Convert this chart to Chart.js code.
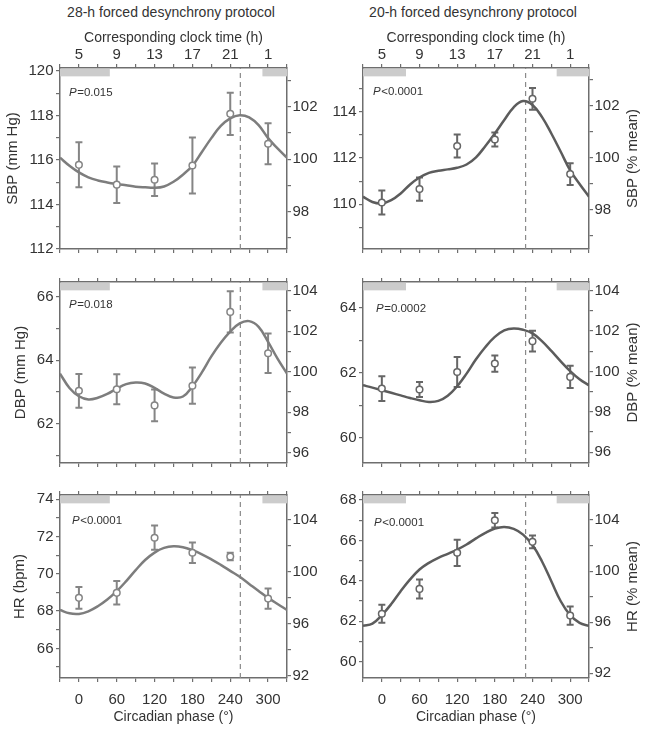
<!DOCTYPE html>
<html><head><meta charset="utf-8">
<script src="https://cdn.jsdelivr.net/npm/chart.js@4"></script>
<style>
body{margin:0;background:#fff;width:649px;height:730px;position:relative;overflow:hidden;font-family:"Liberation Sans",Arial,sans-serif;}
canvas{position:absolute;}
.ct{position:absolute;font-size:14px;line-height:16px;color:#333;white-space:nowrap;transform:translateX(-50%);}
</style></head><body>
<div class="ct" style="left:171px;top:4px">28-h forced desynchrony protocol</div>
<div class="ct" style="left:473px;top:4px">20-h forced desynchrony protocol</div>
<canvas id="c0"></canvas><canvas id="c1"></canvas>
<canvas id="c2"></canvas><canvas id="c3"></canvas>
<canvas id="c4"></canvas><canvas id="c5"></canvas>
<script>
// ---- data ----
const phases = [0, 60, 120, 180, 240, 300];
const phaseLabels = ['0', '60', '120', '180', '240', '300'];
const clockLabels = ['5', '9', '13', '17', '21', '1'];
const fitPhases = [-30,-15,0,15,30,45,60,75,90,105,120,135,150,165,180,195,210,225,240,255,270,285,300,315,330];

const sbp28Mean = [115.78, 114.89, 115.11, 115.75, 118.07, 116.73];
const sbp28Sem  = [1.01, 0.82, 0.73, 1.26, 0.95, 0.92];
const sbp28Fit  = [116.1,115.74,115.44,115.22,115.08,114.99,114.92,114.86,114.80,114.77,114.75,114.81,115.02,115.34,115.74,116.36,116.98,117.53,117.87,118.01,117.91,117.56,116.98,116.52,116.1];

const sbp20Mean = [110.08, 110.66, 112.52, 112.80, 114.56, 111.31];
const sbp20Sem  = [0.52, 0.50, 0.50, 0.30, 0.47, 0.47];
const sbp20Fit  = [110.33,110.1,110.04,110.18,110.47,110.86,111.16,111.36,111.45,111.51,111.58,111.72,112.03,112.52,113.06,113.64,114.19,114.46,114.29,113.78,113.06,112.27,111.47,110.88,110.33];

const dbp28Mean = [63.04, 63.09, 62.58, 63.20, 65.52, 64.22];
const dbp28Sem  = [0.53, 0.47, 0.50, 0.57, 0.65, 0.62];
const dbp28Fit  = [63.58,63.13,62.87,62.77,62.82,62.94,63.11,63.25,63.30,63.27,63.13,62.95,62.83,62.86,63.18,63.62,64.12,64.55,64.9,65.16,65.23,65.05,64.58,64.05,63.58];

const dbp20Mean = [61.51, 61.48, 62.02, 62.28, 62.97, 61.87];
const dbp20Sem  = [0.38, 0.23, 0.46, 0.25, 0.32, 0.34];
const dbp20Fit  = [61.61,61.54,61.46,61.38,61.30,61.22,61.15,61.10,61.13,61.29,61.58,61.97,62.41,62.79,63.10,63.30,63.36,63.32,63.21,62.97,62.67,62.35,62.05,61.8,61.61];

const hr28Mean = [68.71, 68.98, 71.94, 71.13, 70.93, 68.67];
const hr28Sem  = [0.58, 0.63, 0.65, 0.55, 0.20, 0.54];
const hr28Fit  = [68.06,67.88,67.85,67.99,68.26,68.62,69.07,69.61,70.2,70.74,71.14,71.39,71.48,71.43,71.27,71.05,70.78,70.48,70.16,69.84,69.46,69.08,68.71,68.38,68.06];

const hr20Mean = [62.37, 63.60, 65.39, 67.00, 65.93, 62.28];
const hr20Sem  = [0.45, 0.47, 0.65, 0.36, 0.32, 0.45];
const hr20Fit  = [61.77,61.88,62.3,62.85,63.49,64.07,64.56,64.89,65.14,65.34,65.55,65.80,66.10,66.38,66.59,66.67,66.57,66.29,65.77,64.97,63.98,62.99,62.30,61.92,61.77];

const acrophase28 = 256;
const acrophase20 = 229;
const nightBars28 = [[-30, 49], [291, 330]];
const nightBars20 = [[-30, 38.5], [278.5, 330]];
const pTexts = ['=0.015', '<0.0001', '=0.018', '=0.0002', '<0.0001', '<0.0001'];

// ---- panels ----
const panels = [
  {id:'c0', row:0, col:0, mean:sbp28Mean, sem:sbp28Sem, fit:sbp28Fit, dash:acrophase28, bars:nightBars28, p:pTexts[0],
   yMin:112, yMax:120.13, yLab:2, rMin:96.58, rMax:103.47, rStep:1, rLab:2, yTitle:'SBP (mm Hg)', yTitlePad:3.5, pOff:[9,25]},
  {id:'c1', row:0, col:1, mean:sbp20Mean, sem:sbp20Sem, fit:sbp20Fit, dash:acrophase20, bars:nightBars20, p:pTexts[1],
   yMin:108.07, yMax:115.89, yLab:2, rMin:96.5, rMax:103.46, rStep:1, rLab:2, rTitle:'SBP (% mean)', pOff:[10,24]},
  {id:'c2', row:1, col:0, mean:dbp28Mean, sem:dbp28Sem, fit:dbp28Fit, dash:acrophase28, bars:nightBars28, p:pTexts[2],
   yMin:60.77, yMax:66.46, yLab:2, rMin:95.49, rMax:104.43, rStep:1, rLab:2, yTitle:'DBP (mm Hg)', yTitlePad:11.5, pOff:[9,23]},
  {id:'c3', row:1, col:1, mean:dbp20Mean, sem:dbp20Sem, fit:dbp20Fit, dash:acrophase20, bars:nightBars20, p:pTexts[3],
   yMin:59.22, yMax:64.79, yLab:2, rMin:95.47, rMax:104.43, rStep:1, rLab:2, rTitle:'DBP (% mean)', pOff:[13,27]},
  {id:'c4', row:2, col:0, mean:hr28Mean, sem:hr28Sem, fit:hr28Fit, dash:acrophase28, bars:nightBars28, p:pTexts[4],
   yMin:64.41, yMax:74.23, yLab:2, rMin:91.85, rMax:105.9, rStep:2, rLab:4, yTitle:'HR (bpm)', yTitlePad:10.5, pOff:[12,26]},
  {id:'c5', row:2, col:1, mean:hr20Mean, sem:hr20Sem, fit:hr20Fit, dash:acrophase20, bars:nightBars20, p:pTexts[5],
   yMin:59.19, yMax:68.25, yLab:2, rMin:91.63, rMax:105.96, rStep:2, rLab:4, rTitle:'HR (% mean)', pOff:[11,28]}
];

Chart.defaults.font.family = '"Liberation Sans", Arial, sans-serif';
Chart.defaults.color = '#333';

const FRAME = '#6e6e6e';
const TEXT = '#333';

function isMult(v, m){ const r = Math.abs(v / m - Math.round(v / m)); return r < 1e-6; }

function makeChart(p){
  const L = p.col === 0;
  const cvs = document.getElementById(p.id);
  const left = L ? 0 : 320, width = L ? 330 : 329;
  const top = [0, 262, 476][p.row], height = [262, 214, 254][p.row];
  cvs.width = width; cvs.height = height;
  cvs.style.left = left + 'px'; cvs.style.top = top + 'px';
  const topH = [68, 20, 19][p.row], botH = [13, 13, 52][p.row];
  const lW = L ? 60 : 43, rW = L ? 43 : 60;
  const ink = L ? '#7d7d7d' : '#5c5c5c';
  const errInk = L ? '#858585' : '#666666';

  const extras = {
    id: 'extras' + p.id,
    beforeDatasetsDraw(chart){
      const {ctx, chartArea: a, scales: {x, y}} = chart;
      ctx.save();
      ctx.beginPath(); ctx.rect(a.left, a.top, a.right - a.left, a.bottom - a.top); ctx.clip();
      ctx.fillStyle = '#cccccc';
      p.bars.forEach(b => {
        const x0 = x.getPixelForValue(b[0]), x1 = x.getPixelForValue(b[1]);
        ctx.fillRect(x0, a.top + 0.75, x1 - x0, 7.6);
      });
      ctx.restore();
      ctx.save();
      ctx.strokeStyle = errInk; ctx.lineWidth = 2;
      phases.forEach((ph, i) => {
        const px = x.getPixelForValue(ph);
        const yt = y.getPixelForValue(p.mean[i] + p.sem[i]);
        const yb = y.getPixelForValue(p.mean[i] - p.sem[i]);
        ctx.beginPath();
        ctx.moveTo(px, yt); ctx.lineTo(px, yb);
        ctx.moveTo(px - 3.5, yt); ctx.lineTo(px + 3.5, yt);
        ctx.moveTo(px - 3.5, yb); ctx.lineTo(px + 3.5, yb);
        ctx.stroke();
      });
      ctx.restore();
    },
    afterDraw(chart){
      const {ctx, chartArea: a} = chart;
      ctx.save();
      ctx.fillStyle = TEXT;
      ctx.textBaseline = 'middle';
      ctx.textAlign = 'left';
      ctx.font = 'italic 11.5px "Liberation Sans", Arial, sans-serif';
      const px = a.left + p.pOff[0], py = a.top + p.pOff[1];
      ctx.fillText('P', px, py);
      const w = ctx.measureText('P').width;
      ctx.font = '11.5px "Liberation Sans", Arial, sans-serif';
      ctx.fillText(p.p, px + w + 0.5, py);
      if (p.rTitle){
        ctx.translate(633 - left, (a.top + a.bottom) / 2);
        ctx.rotate(-Math.PI / 2);
        ctx.textAlign = 'center';
        ctx.font = '15px "Liberation Sans", Arial, sans-serif';
        ctx.fillText(p.rTitle, 0, 0);
      }
      ctx.restore();
    }
  };

  const xCommon = {
    type: 'linear', min: -30, max: 330,
    grid: {drawOnChartArea: false, tickLength: 4, color: FRAME, lineWidth: 1.2},
    border: {display: true, color: FRAME, width: 1.5}
  };

  new Chart(cvs, {
    type: 'line',
    data: {datasets: [
      {label: 'mean', data: phases.map((ph, i) => ({x: ph, y: p.mean[i]})), showLine: false,
       pointRadius: 3.3, pointBorderWidth: 1.5, pointBackgroundColor: '#ffffff', pointBorderColor: errInk, order: 0},
      {label: 'fit', data: fitPhases.map((ph, i) => ({x: ph, y: p.fit[i]})), borderColor: ink, borderWidth: 2.5,
       pointRadius: 0, tension: 0.4, fill: false, order: 1},
      {label: 'acrophase', data: [{x: p.dash, y: p.yMin}, {x: p.dash, y: p.yMax}], borderColor: '#8a8a8a',
       borderWidth: 1.2, borderDash: [5, 4], pointRadius: 0, order: 2}
    ]},
    options: {
      responsive: false, animation: false, devicePixelRatio: 1,
      layout: {padding: 0},
      plugins: {legend: {display: false}, tooltip: {enabled: false}},
      scales: {
        x: Object.assign({}, xCommon, {
          position: 'bottom',
          ticks: {stepSize: 30, autoSkip: false, maxRotation: 0, minRotation: 0, padding: 9, color: TEXT, font: {size: 15},
            callback: v => { if (p.row !== 2) return ''; const k = phases.indexOf(v); return k >= 0 ? phaseLabels[k] : ''; }},
          title: {display: p.row === 2, text: 'Circadian phase (°)', color: TEXT, font: {size: 14}, padding: {top: 0, bottom: 4.6}},
          afterFit: s => { s.height = botH; }
        }),
        x2: Object.assign({}, xCommon, {
          position: 'top',
          ticks: {stepSize: 30, autoSkip: false, maxRotation: 0, minRotation: 0, padding: 0, color: TEXT, font: {size: 15},
            callback: v => { if (p.row !== 0) return ''; const k = phases.indexOf(v); return k >= 0 ? clockLabels[k] : ''; }},
          title: {display: p.row === 0, text: 'Corresponding clock time (h)', color: TEXT, font: {size: 14}, padding: {top: 29.6, bottom: 0}},
          afterFit: s => { s.height = topH; }
        }),
        y: {
          type: 'linear', position: 'left', min: p.yMin, max: p.yMax,
          ticks: {stepSize: 1, includeBounds: false, autoSkip: false, padding: 2.5, color: TEXT, font: {size: 15},
            callback: v => isMult(v, p.yLab) ? String(Math.round(v)) : ''},
          grid: {drawOnChartArea: false, tickLength: 4, color: FRAME, lineWidth: 1.2},
          border: {display: true, color: FRAME, width: 1.5},
          title: {display: !!p.yTitle, text: p.yTitle || '', color: TEXT, font: {size: 15}, padding: {top: p.yTitlePad || 0, bottom: 0}},
          afterFit: s => { s.width = lW; }
        },
        y2: {
          type: 'linear', position: 'right', min: p.rMin, max: p.rMax,
          ticks: {stepSize: p.rStep, includeBounds: false, autoSkip: false, padding: 1.5, color: TEXT, font: {size: 15},
            callback: v => isMult(v, p.rLab) ? String(Math.round(v)) : ''},
          grid: {drawOnChartArea: false, tickLength: 4, color: FRAME, lineWidth: 1.2},
          border: {display: true, color: FRAME, width: 1.5},
          afterFit: s => { s.width = rW; }
        }
      }
    },
    plugins: [extras]
  });
}

panels.forEach(makeChart);
</script>
</body></html>
